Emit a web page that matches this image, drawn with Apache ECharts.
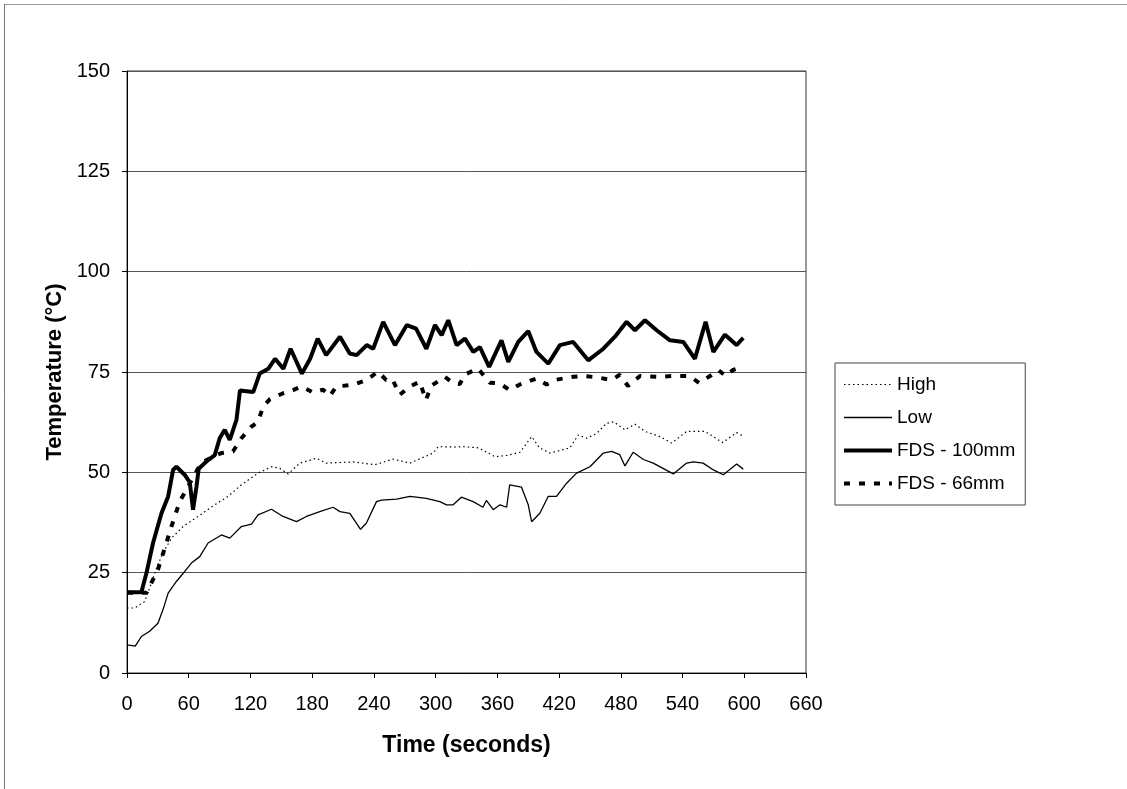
<!DOCTYPE html>
<html>
<head>
<meta charset="utf-8">
<style>html,body{margin:0;padding:0;background:#fff;}#c{width:1127px;height:789px;}</style>
<script src="https://cdn.jsdelivr.net/npm/echarts@6/dist/echarts.min.js"></script>
</head>
<body>
<div id="c"></div>
<script>
var xTicks = [0,60,120,180,240,300,360,420,480,540,600,660];
var yTicks = [0,25,50,75,100,125,150];

var highT = [0,7.5,17.2,23.7,28.6,35,43.2,54.5,69,85.3,98.2,111.2,127.4,140.4,148.5,156.6,168,184,193.6,219.8,241,258.7,275,297.6,302.5,320,326.7,342,357.6,369,382,393.3,401,411,430.5,438.6,447,456.5,466,473,484,493.7,503.5,518,529.4,544,561.8,570,579,592.6,599.7];
var highV = [16.2,16.2,17.8,22.4,26.1,29.9,33.6,36.5,39,41.9,44,46.9,49.8,51.4,51,49.6,52.3,53.5,52.3,52.6,51.9,53.3,52.3,54.8,56.4,56.3,56.4,56.1,53.9,54.2,55,58.9,56.1,54.8,56.1,59.3,58.5,59.7,62.2,62.6,60.6,62,60.2,58.9,57.3,60.2,60.2,58.9,57.4,59.9,58.9];

var lowT = [0,8,14,22,30.1,35,40,48,56.1,62.6,70.7,78.8,91.8,99.9,111.2,121,127.4,140.4,151.7,164.7,174.4,187.4,200.3,207,216.6,227,232.6,242.5,247.3,262,275,291,304,310.6,317,325,336.5,346,349.3,356,362.5,369,372,383.5,390,393.3,401.3,409.4,417.5,427.3,437,450,463,471,479,484,492,502,511.5,531,544,550.5,560,570,579.6,592.6,599];
var lowV = [7,6.7,9.1,10.4,12.4,15.8,19.9,22.8,25.3,27.4,29,32.4,34.4,33.6,36.5,37.1,39.4,40.8,39,37.7,39,40.2,41.3,40.2,39.8,35.8,37.3,42.7,43.1,43.3,44,43.5,42.7,41.9,41.9,43.8,42.7,41.3,43,40.7,41.9,41.3,46.9,46.3,41.9,37.7,39.8,44,44,47.3,49.8,51.4,54.8,55.2,54.4,51.6,55,53.2,52.3,49.6,52.3,52.6,52.3,50.6,49.4,52.1,50.8];

var fds100T = [0,14,18.9,25.3,33.5,40,44.8,48,56,61,64.2,67.5,69.7,77.2,85.3,90.1,95,99.9,106.4,109.8,122.7,129,137.3,143.9,152,159,170,178,185.3,193.6,207,216.5,223.2,233,239.3,249,260.5,272,281,291,299.4,305.8,312.3,320.4,328.5,336.6,343,352,364,370.6,380.3,390,398,409.5,420.8,433.7,448.3,463,474.3,485.6,493.7,503.5,514.8,527.8,540.7,552,562.4,570,581.2,592.5,599];
var fds100V = [20.1,20.1,24.9,32.4,39.8,44,50.6,51.4,49.4,47.5,40.7,46.4,50.9,52.7,54.3,58.5,60.6,58.1,63.1,70.4,70,74.6,75.8,78.3,75.8,80.8,74.6,78.3,83.3,79.2,83.8,79.6,79.2,81.7,80.8,87.5,81.7,86.7,85.8,80.8,86.7,84.2,87.9,81.7,83.3,80,81.2,76.3,82.9,77.5,82.5,85.2,80,77.1,81.7,82.5,77.9,80.8,83.8,87.5,85.4,87.9,85.4,82.9,82.5,78.3,87.5,80,84.3,81.7,83.5];

var fds66T = [0,14,19,30,36.7,43.2,51.2,72,84,91.8,103,111.2,121,127.4,132.3,138.8,151.7,161.4,169.6,181,190.6,197,203.6,219.8,232.8,244,252,258,265,275,284.6,290.5,296,309,317,323.5,328,341,352.7,362,372,382,398,408,417.6,433.7,443.4,456,471,479,487,498.6,515,531,547,556,566.7,574.7,582,589,598.5];
var fds66V = [20,20,20,25.7,31.1,36.5,42.7,52.3,54,54.8,55.2,58.5,61.4,62.6,66.4,68.2,69.7,70.5,71.4,69.9,70.6,69,71.4,71.8,73,75.1,73,73.2,69.3,71.4,72.6,68,71.6,73.8,72.2,72,74.3,75.9,72.3,72.2,70.5,71.9,73.4,71.9,73.1,73.8,74,73.7,73,74.3,71.5,74,73.8,74,74,72.3,74,75.5,74,75.5,76.3];

function zip(t, v) { return t.map(function (x, i) { return [x, v[i]]; }); }

var FONT = '"Liberation Sans", Arial, sans-serif';
var chart = echarts.init(document.getElementById('c'), null, {renderer: 'canvas'});
chart.setOption({
  animation: false,
  backgroundColor: '#fff',
  graphic: [
    {type: 'line', shape: {x1: 4, y1: 4.5, x2: 1127, y2: 4.5}, style: {stroke: '#999', lineWidth: 1}, silent: true},
    {type: 'line', shape: {x1: 4.5, y1: 4, x2: 4.5, y2: 789}, style: {stroke: '#777', lineWidth: 1}, silent: true}
  ],
  grid: {left: 127, top: 71, right: 321, bottom: 116, show: true, borderColor: '#333', borderWidth: 1, backgroundColor: 'transparent'},
  legend: {
    orient: 'vertical', left: 835, top: 363,
    itemWidth: 48, itemHeight: 14, itemGap: 14,
    padding: [12, 10, 12, 7],
    borderColor: '#444', borderWidth: 1, borderRadius: 0,
    itemStyle: {opacity: 0},
    textStyle: {fontFamily: FONT, fontSize: 19, color: '#000'},
    data: [
      {name: 'High', lineStyle: {width: 1.2, type: [1.5, 3]}},
      {name: 'Low', lineStyle: {width: 1.3}},
      {name: 'FDS - 100mm', lineStyle: {width: 4}},
      {name: 'FDS - 66mm', lineStyle: {width: 4, type: [6, 9]}}
    ]
  },
  xAxis: {
    type: 'value', min: 0, max: 660, interval: 60,
    name: 'Time (seconds)', nameLocation: 'middle', nameGap: 61,
    nameTextStyle: {fontFamily: FONT, fontSize: 23, fontWeight: 'bold', color: '#000'},
    axisLine: {show: true, lineStyle: {color: '#000', width: 1}},
    axisTick: {show: true, length: 5, lineStyle: {color: '#000'}},
    axisLabel: {fontFamily: FONT, fontSize: 20, color: '#000', margin: 21,
      formatter: function (v) { return xTicks.indexOf(v) >= 0 ? String(v) : ''; }},
    splitLine: {show: false}
  },
  yAxis: {
    type: 'value', min: 0, max: 150, interval: 25,
    name: 'Temperature (°C)', nameLocation: 'middle', nameGap: 58,
    nameTextStyle: {fontFamily: FONT, fontSize: 22, fontWeight: 'bold', color: '#000'},
    axisLine: {show: true, lineStyle: {color: '#000', width: 1}},
    axisTick: {show: true, length: 5, lineStyle: {color: '#000'}},
    axisLabel: {fontFamily: FONT, fontSize: 20, color: '#000', margin: 17,
      formatter: function (v) { return yTicks.indexOf(v) >= 0 ? String(v) : ''; }},
    splitLine: {show: true, lineStyle: {color: '#555', width: 1}}
  },
  series: [
    {name: 'High', type: 'line', data: zip(highT, highV), showSymbol: false, symbol: 'none',
      lineStyle: {color: '#000', width: 1.2, type: [1.5, 3]}, itemStyle: {color: '#000'}},
    {name: 'Low', type: 'line', data: zip(lowT, lowV), showSymbol: false, symbol: 'none',
      lineStyle: {color: '#000', width: 1.3}, itemStyle: {color: '#000'}},
    {name: 'FDS - 66mm', type: 'line', data: zip(fds66T, fds66V), showSymbol: false, symbol: 'none',
      lineStyle: {color: '#000', width: 4, type: [6, 9]}, itemStyle: {color: '#000'}},
    {name: 'FDS - 100mm', type: 'line', data: zip(fds100T, fds100V), showSymbol: false, symbol: 'none',
      lineStyle: {color: '#000', width: 4}, itemStyle: {color: '#000'}}
  ]
});
</script>
</body>
</html>
